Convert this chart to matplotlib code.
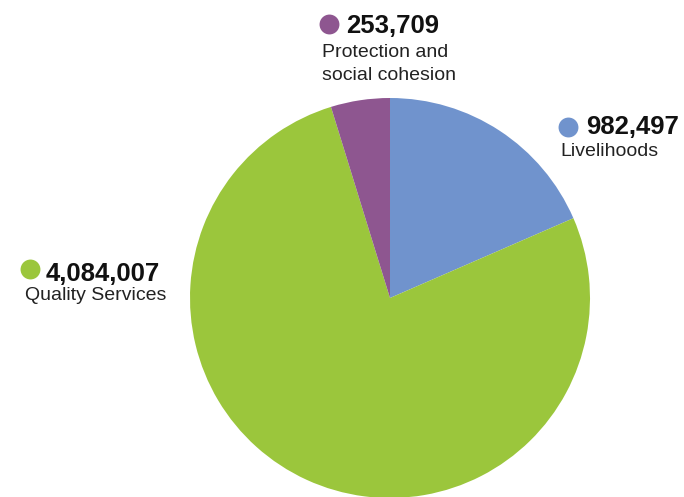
import matplotlib.pyplot as plt

plt.rcParams['font.family'] = ['Liberation Sans', 'DejaVu Sans']

# pie data (clockwise from 12 o'clock)
categories = ["Livelihoods", "Quality Services", "Protection and\nsocial cohesion"]
values = [982497, 4084007, 253709]
colors = ["#7093cd", "#9bc63c", "#8e5690"]

# label placement in pixels: dot centre, number left/baseline, label left/baseline
label_pos = [
    ((568, 127), (586, 134), (560, 156)),
    ((30, 269), (46, 281), (25, 300)),
    ((329, 24), (346, 33), (322, 57)),
]

W, H = 684, 497
fig = plt.figure(figsize=(W / 100, H / 100), dpi=100)

# pie: centre (390, 298), radius 200 px
ax = fig.add_axes([190 / W, (H - 498) / H, 400 / W, 400 / H])
ax.pie(values, colors=colors, startangle=90, counterclock=False, radius=1,
       wedgeprops=dict(linewidth=0))
ax.set_xlim(-1, 1)
ax.set_ylim(-1, 1)
ax.set_aspect('equal')
ax.axis('off')

# overlay for annotations in pixel coords
ov = fig.add_axes([0, 0, 1, 1])
ov.set_xlim(0, W)
ov.set_ylim(H, 0)
ov.axis('off')

for name, val, col, (dot, num, lab) in zip(categories, values, colors, label_pos):
    ov.scatter([dot[0]], [dot[1]], s=205, color=col, linewidths=0)
    ov.text(num[0], num[1], f"{val:,}", fontsize=18.5, fontweight='bold',
            va='baseline', ha='left', color='#111111')
    # one text per line so each baseline sits where it should
    for i, line in enumerate(name.split("\n")):
        ov.text(lab[0], lab[1] + i * 23, line, fontsize=14, va='baseline',
                ha='left', color='#222222')

fig.savefig("out.png", dpi=100)
